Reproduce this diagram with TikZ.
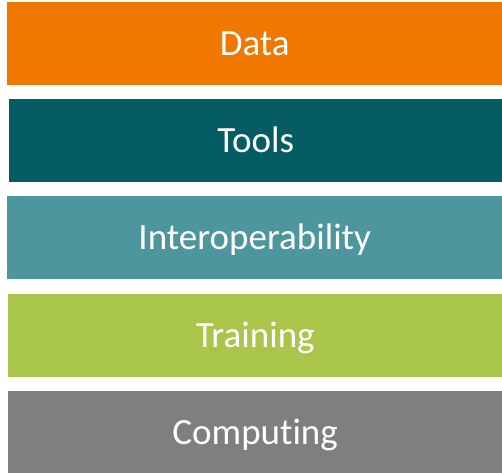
\documentclass[tikz,border=0pt]{standalone}
\usepackage{fontspec}
\setmainfont{Carlito}[Ligatures=NoCommon]
\usetikzlibrary{positioning}

\definecolor{dataorange}{HTML}{F07800}
\definecolor{toolsteal}{HTML}{055D63}
\definecolor{interopteal}{HTML}{4D969D}
\definecolor{traininggreen}{HTML}{A9C64A}
\definecolor{computinggrey}{HTML}{7F7F7F}

\tikzset{
  layerbar/.style={draw=none, anchor=north west, inner sep=0pt,
    minimum height=83pt, text=white, text height=23.5pt, text depth=0pt,
    font=\fontsize{37}{44}\selectfont}
}

\begin{document}
\begin{tikzpicture}[x=1pt, y=1pt]
    \useasboundingbox (0,0) rectangle (502,-472);
    % Layers, top to bottom
    \foreach \i/\txt/\col/\lx/\ty in {1/Data/dataorange/7/2, 2/Tools/toolsteal/9/99,
        3/Interoperability/interopteal/7/196, 4/Training/traininggreen/8/294,
        5/Computing/computinggrey/8/391} {
      \pgfmathsetmacro{\w}{502-\lx}
      \node[layerbar, fill=\col, minimum width=\w pt] (layer\i) at (\lx,-\ty) {\txt};
    }
  \end{tikzpicture}
\end{document}
